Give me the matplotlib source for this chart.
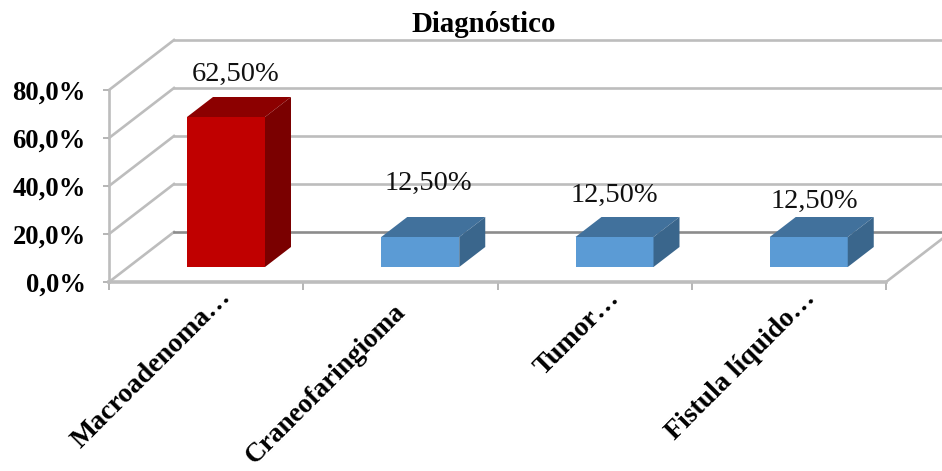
import matplotlib
matplotlib.use("Agg")
import matplotlib.pyplot as plt
from matplotlib.patches import Polygon

title = "Diagnóstico"
categories = ["Macroadenoma…", "Craneofaringioma", "Tumor…", "Fistula líquido…"]
values = [62.5, 12.5, 12.5, 12.5]
value_labels = ["62,50%", "12,50%", "12,50%", "12,50%"]
y_ticks = [0, 20, 40, 60, 80]
y_labels = ["0,0%", "20,0%", "40,0%", "60,0%", "80,0%"]
front_colors = ["#C00000", "#5B9BD5", "#5B9BD5", "#5B9BD5"]
top_colors = ["#8C0000", "#41719C", "#41719C", "#41719C"]
side_colors = ["#7A0000", "#3A668C", "#3A668C", "#3A668C"]

W, H = 942, 471
plt.rcParams["font.family"] = ["Liberation Serif", "DejaVu Serif"]
fig = plt.figure(figsize=(W / 100, H / 100), dpi=100)

L, R, T, B = 109, 886, 90, 282
ax = fig.add_axes([L / W, 1 - B / H, (R - L) / W, (B - T) / H])
ax.set_xlim(0, len(categories))
ax.set_ylim(0, 80)
ax.patch.set_visible(False)
for s in ax.spines.values():
    s.set_visible(False)

ppx = len(categories) / (R - L)
ppy = 80 / (B - T)
wall_dx, wall_dy = 65 * ppx, 50 * ppy
bar_dx, bar_dy = 26 * ppx, 20 * ppy
bar_x0, bar_w = 78 * ppx, 78 * ppx
bar_y0 = 15 * ppy

GRID = "#BDBDBD"
lw = 1.9
for t in y_ticks:
    ax.plot([0, wall_dx], [t, t + wall_dy], color=GRID, lw=lw, clip_on=False, zorder=1)
    ax.plot([wall_dx, 4 + wall_dx], [t + wall_dy, t + wall_dy],
            color="#8C8C8C" if t == 0 else GRID, lw=lw, clip_on=False, zorder=1)
ax.plot([4, 4 + wall_dx], [0, wall_dy], color=GRID, lw=lw, clip_on=False, zorder=1)
ax.plot([0, 4], [0, 0], color=GRID, lw=2.6, clip_on=False, zorder=2)
ax.plot([0, 0], [0, 80], color=GRID, lw=lw, clip_on=False, zorder=2)

label_offsets = [(10, 43), (8, 54), (0, 42), (6, 36)]
for i, v in enumerate(values):
    x0 = i + bar_x0
    x1 = x0 + bar_w
    y0 = bar_y0
    y1 = y0 + v
    ax.add_patch(Polygon([(x0, y0), (x1, y0), (x1, y1), (x0, y1)],
                         fc=front_colors[i], ec="none", zorder=3, clip_on=False))
    ax.add_patch(Polygon([(x0, y1), (x1, y1), (x1 + bar_dx, y1 + bar_dy), (x0 + bar_dx, y1 + bar_dy)],
                         fc=top_colors[i], ec="none", zorder=3, clip_on=False))
    ax.add_patch(Polygon([(x1, y0), (x1 + bar_dx, y0 + bar_dy), (x1 + bar_dx, y1 + bar_dy), (x1, y1)],
                         fc=side_colors[i], ec="none", zorder=3, clip_on=False))
    ox, oy = label_offsets[i]
    ax.annotate(value_labels[i], xy=((x0 + x1) / 2, y1), xytext=(ox * 0.72, oy * 0.72),
                textcoords="offset points", ha="center", va="center",
                fontsize=20.5, color="#111111", zorder=5, annotation_clip=False)

ax.set_yticks(y_ticks)
ax.set_yticklabels(y_labels, fontsize=19.2, fontweight="bold")
ax.tick_params(axis="y", length=4.5, width=1.3, color="#B0B0B0", pad=17 * 0.72)
ax.set_xticks(range(len(categories) + 1))
ax.set_xticklabels([""] * (len(categories) + 1))
ax.tick_params(axis="x", length=5.5, width=1.3, color="#B0B0B0")

cat_offsets = [(8.5, -2), (-5.4, -12.4), (8.7, -3), (10, -3)]
cat_sizes = [20, 19.6, 20, 20]
for i, c in enumerate(categories):
    ox, oy = cat_offsets[i]
    ax.annotate(c, xy=(i + 0.5, 0), xytext=(ox, oy), textcoords="offset points",
                rotation=45, rotation_mode="anchor", ha="right", va="top",
                fontsize=cat_sizes[i], fontweight="bold", annotation_clip=False)

fig.text(484 / W, 1 - 25 / H, title, ha="center", va="center", fontsize=20.8, fontweight="bold")
fig.savefig("out.png", dpi=100)
